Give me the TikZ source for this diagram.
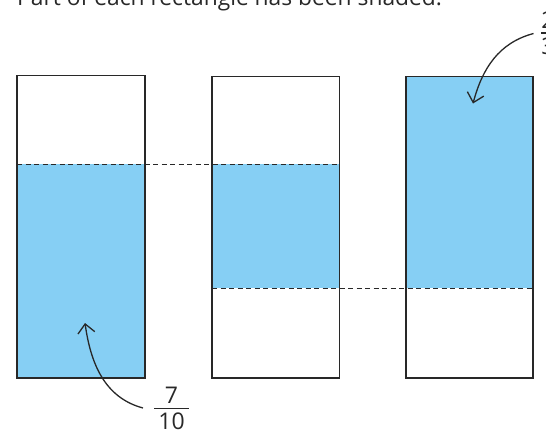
\documentclass[tikz,border=0pt]{standalone}
\usepackage{fontspec}
\setmainfont{Open Sans}
\usetikzlibrary{arrows.meta}
\definecolor{shade}{RGB}{134,207,244}
\definecolor{ink}{RGB}{40,40,40}
\tikzset{
  box/.style={draw=ink, line width=1.4pt},
  fillpart/.style={fill=shade, draw=none},
  guide/.style={draw=ink, line width=1.4pt, dash pattern=on 5pt off 3.5pt},
  pointer/.style={draw=ink, line width=1.3pt, -{Straight Barb[length=9pt,width=17pt,line width=1.3pt]}},
  lbl/.style={inner sep=0pt, text=ink, font=\fontsize{23}{23}\selectfont},
  fracbar/.style={draw=ink, line width=1.4pt}
}
\begin{document}
\begin{tikzpicture}[x=1pt,y=-1pt]
\useasboundingbox (0,0) rectangle (546,432);
% title (cut by the top edge)
\node[anchor=base west, inner sep=0pt, text=ink, font=\fontsize{22.8}{22.8}\selectfont] (title) at (17,5) {Part of each rectangle has been shaded.};
% shaded parts
\fill[fillpart] (17,164.3) rectangle (145,378);
\fill[fillpart] (212,164.3) rectangle (339.5,288.3);
\fill[fillpart] (406,76.5) rectangle (533,288.3);
% dashed guides
\draw[guide] (17,164.3) -- (339.5,164.3);
\draw[guide] (212,288.3) -- (533,288.3);
% rectangles
\draw[box] (17,75.5) rectangle (145,378);
\draw[box] (212,76.5) rectangle (339.5,378);
\draw[box] (406,76.5) rectangle (533,378);
% fraction 7/10
\node[lbl, anchor=base] (sevennum) at (171.5,403) {7};
\node[lbl, anchor=base] (tenden) at (171.5,429.5) {10};
\draw[fracbar] (154,408.3) -- (189,408.3);
% fraction 2/3 (cut by the right edge)
\node[lbl, anchor=base] (twonum) at (548,28) {2};
\node[lbl, anchor=base] (threeden) at (548,54) {3};
\draw[fracbar] (541,33) -- (561,33);
% arrows
\coordinate (tipA) at (85,323);
\coordinate (startA) at (143,408);
\coordinate (tipB) at (473,103.5);
\coordinate (startB) at (533.5,33.5);
\draw[pointer] (startA) to[out=165, in=-82] (tipA);
\draw[pointer] (startB) to[out=195, in=75] (tipB);
\end{tikzpicture}
\end{document}
